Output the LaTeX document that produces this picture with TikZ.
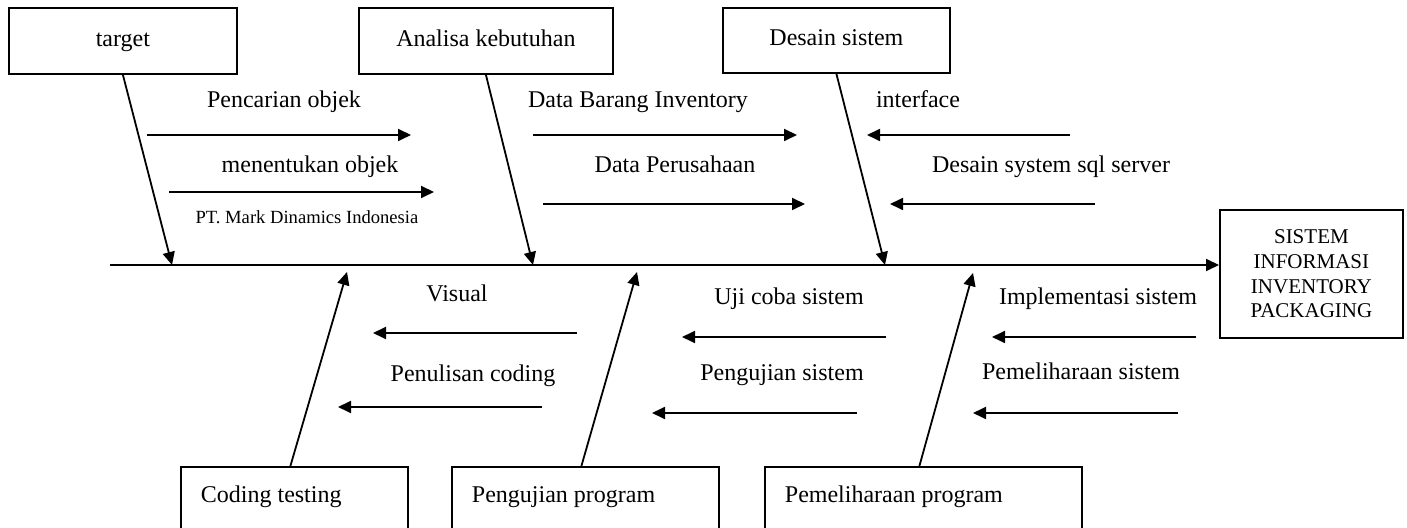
\documentclass[tikz,border=0pt]{standalone}
\usepackage{fontspec}
\setmainfont{Liberation Serif}
\usetikzlibrary{arrows.meta}

\begin{document}
\begin{tikzpicture}[x=0.5pt,y=-0.5pt,line width=0.9pt,>={Triangle[length=6.5pt,width=6pt]}]
	\tikzstyle{box}=[draw, rectangle, inner sep=0pt, anchor=north west, text height=8.5pt, text depth=3pt, font=\fontsize{12}{14}\selectfont]
	\tikzstyle{bbox}=[draw, rectangle, anchor=north west, align=flush left, inner xsep=10pt, inner ysep=9.5pt, text height=8.5pt, text depth=40pt, font=\fontsize{12}{14}\selectfont]
	\tikzstyle{lbl}=[anchor=base, inner sep=0pt, font=\fontsize{12}{14}\selectfont]

	\useasboundingbox (0,0) rectangle (1407,528);
	\clip (0,0) rectangle (1407,528);

	\node[box, minimum width=114pt, minimum height=33pt] (target) at (8,7) {target};
	\node[box, minimum width=127pt, minimum height=33pt] (analisa) at (358,7) {Analisa kebutuhan};
	\node[box, minimum width=113.5pt, minimum height=32.5pt] (desain) at (722,7) {Desain sistem};
	\node[draw, rectangle, inner sep=0pt, anchor=north west, minimum width=91.5pt, minimum height=64pt, align=center, font=\fontsize{10.5}{12.3}\selectfont] (sistem) at (1219,209) {SISTEM\\INFORMASI\\INVENTORY\\PACKAGING};
	\node[bbox, text width=93.5pt] (coding) at (180,466) {Coding testing};
	\node[bbox, text width=113.5pt] (pengujian) at (451,466) {Pengujian program};
	\node[bbox, text width=138.5pt] (pemeliharaan) at (764,466) {Pemeliharaan program};

	\coordinate (tail) at (110,265);
	\draw[->] (tail) -- (tail -| sistem.west);

	\coordinate (j1) at (172,265);
	\coordinate (j2) at (533,265);
	\coordinate (j3) at (885,265);
	\coordinate (k1) at (347,272);
	\coordinate (k2) at (637,272);
	\coordinate (k3) at (973,273);
	\foreach \from/\to in {target/j1,analisa/j2,desain/j3}
	\draw[->] (\from.south) -- (\to);
	\foreach \from/\to in {coding/k1,pengujian/k2,pemeliharaan/k3}
	\draw[->] ([xshift=-2pt]\from.north) -- (\to);

	\foreach \i/\xa/\xb/\y in {1/147/411/135,2/169/434/192,3/533/797/135,4/543/805/204,5/1070/867/135,6/1095/890/204,7/577/373/333,8/542/338/407,9/886/682/337,10/857/652/413,11/1196/992/337,12/1178/973/413}
	{
		\coordinate (s\i) at (\xa,\y);
		\coordinate (e\i) at (\xb,\y);
		\draw[->] (s\i) -- (e\i);
	}

	\foreach \nm/\x/\y/\t in {pencarian/284/108/Pencarian objek,menentukan/310/173/menentukan objek,barang/638/108/Data Barang Inventory,perusahaan/675/173/Data Perusahaan,interface/918/108/interface,sqlserver/1051/173/Desain system sql server,visual/457/302/Visual,penulisan/473/382/Penulisan coding,ujicoba/789/305/Uji coba sistem,pengujiansis/782/381/Pengujian sistem,implementasi/1098/305/Implementasi sistem,pemeliharaansis/1081/380/Pemeliharaan sistem}
	\node[lbl] (\nm) at (\x,\y) {\t};
	\node[lbl, font=\fontsize{9.3}{11}\selectfont] (pt) at (307,224) {PT. Mark Dinamics Indonesia};
\end{tikzpicture}
\end{document}
